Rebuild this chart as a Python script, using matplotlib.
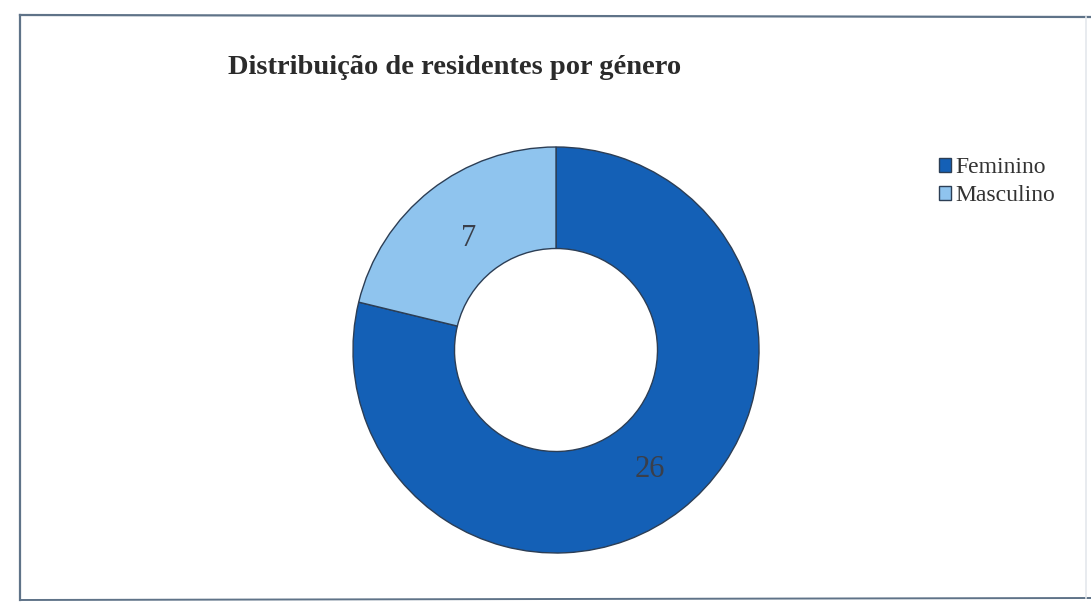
import matplotlib
matplotlib.use("Agg")
import matplotlib.pyplot as plt
import numpy as np

TITLE = "Distribuição de residentes por género"
CATEGORIES = ["Feminino", "Masculino"]
VALUES = [26, 7]
COLORS = ["#1460b6", "#8fc4ee"]

plt.rcParams["font.family"] = ["Liberation Serif", "DejaVu Serif"]

W, H = 1091, 610
fig = plt.figure(figsize=(W / 100, H / 100), dpi=100)

# chart frame (scanned page: left/top/bottom dark, right edge faint)
frame = "#5f7388"
fig.add_artist(plt.Line2D([20 / W, 20 / W], [1 - 15 / H, 1 - 600 / H], color=frame, lw=1.6))
fig.add_artist(plt.Line2D([20 / W, 1.0], [1 - 15 / H, 1 - 17 / H], color=frame, lw=1.6))
fig.add_artist(plt.Line2D([20 / W, 1.0], [1 - 600 / H, 1 - 598 / H], color=frame, lw=1.4))
fig.add_artist(plt.Line2D([1086 / W, 1086 / W], [1 - 17 / H, 1 - 598 / H], color="#e4e8ec", lw=1.2))

cx, cy, r = 556, 610 - 350, 203
ax = fig.add_axes([(cx - r) / W, (cy - r) / H, 2 * r / W, 2 * r / H])
wedges, _ = ax.pie(VALUES, colors=COLORS, startangle=90, counterclock=False,
                   wedgeprops=dict(width=0.5, edgecolor="#2c3e55", linewidth=1.0))
ax.set_xlim(-1, 1)
ax.set_ylim(-1, 1)
ax.axis("off")

total = sum(VALUES)
start = 90.0
for v, d in zip(VALUES, [0.75, 0.70]):
    span = 360.0 * v / total
    mid = np.deg2rad(start - span / 2)
    ax.text(d * np.cos(mid), d * np.sin(mid), str(v), ha="center", va="center",
            fontsize=22, color="#3a3f4a")
    start -= span

fig.text(455 / W, 1 - 68 / H, TITLE, ha="center", va="center", fontsize=20.5,
         fontweight="bold", color="#2b2b2b")

fig.legend(wedges, CATEGORIES, loc="upper left", bbox_to_anchor=(918 / W, 1 - 136 / H),
           frameon=False, fontsize=17, handlelength=0.5, handleheight=0.5,
           handletextpad=0.2, labelspacing=0.3, labelcolor="#333333")

fig.savefig("out.png", dpi=100, facecolor="white")
